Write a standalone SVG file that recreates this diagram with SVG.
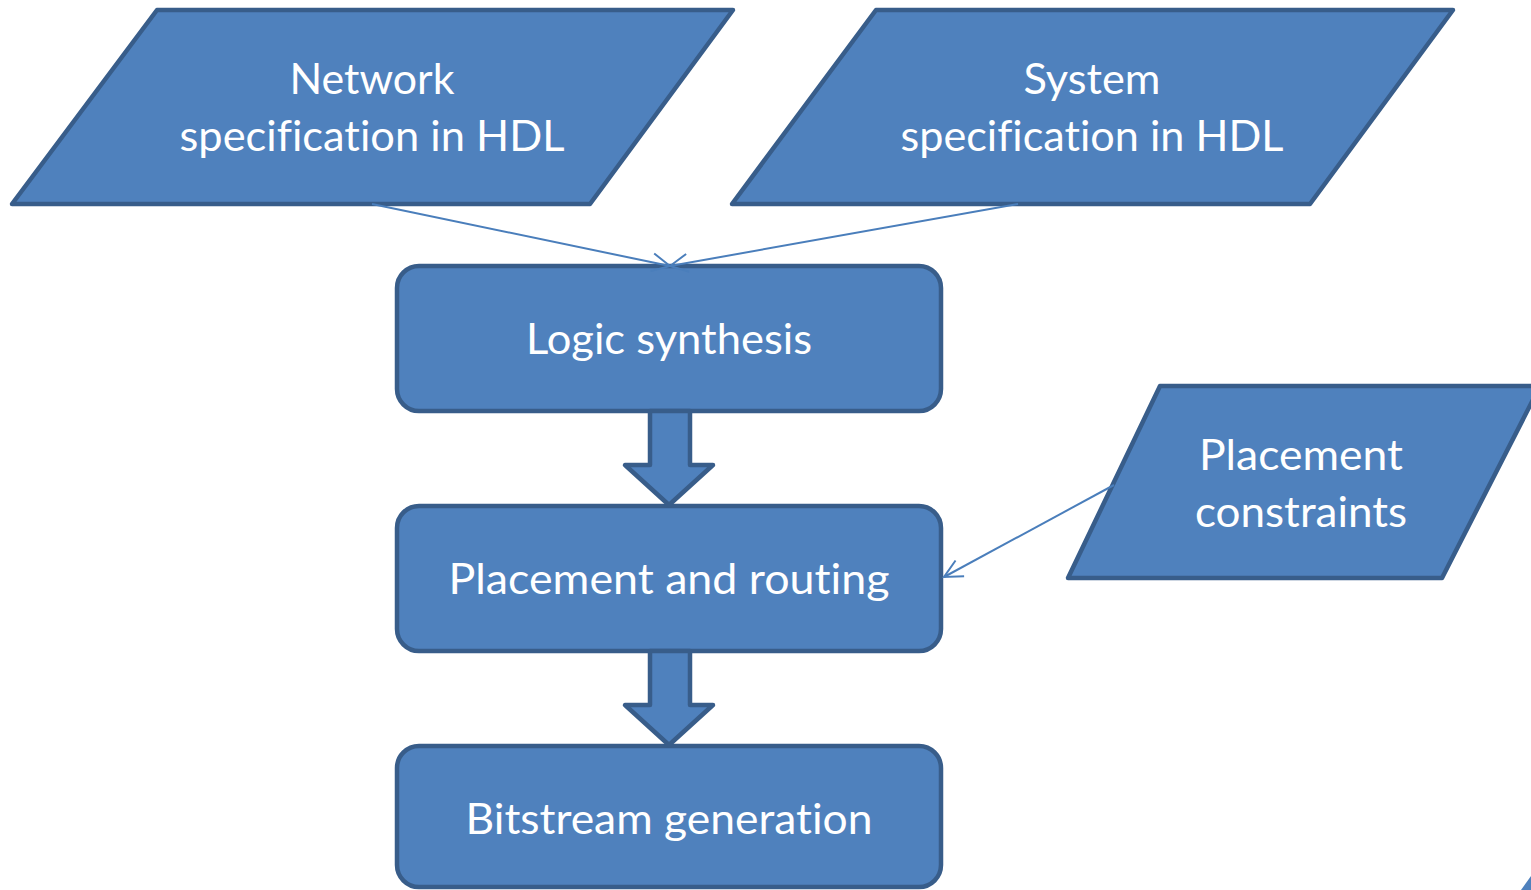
<svg xmlns="http://www.w3.org/2000/svg" width="1531" height="890" viewBox="0 0 1531 890">
  <style>
    .shape { fill: #4F81BD; stroke: #385D8A; stroke-width: 4.5; stroke-linejoin: round; }
    .label { fill: #FFFFFF; font-family: Lato, "Open Sans", "Liberation Sans", sans-serif; font-size: 42px; text-anchor: middle; font-variant-ligatures: none; }
    .link { fill: none; stroke: #4A7EBB; stroke-width: 2; }
  </style>
  <defs>
    <marker id="open-arrow" viewBox="0 0 24 24" refX="22" refY="12" markerWidth="24" markerHeight="24" markerUnits="userSpaceOnUse" orient="auto">
      <path d="M4,3 L22,12 L4,21" fill="none" stroke="#4A7EBB" stroke-width="2"/>
    </marker>
  </defs>
  <rect width="1531" height="890" fill="#FFFFFF"/>

  <!-- inputs -->
  <g id="network-spec">
    <polygon class="shape" points="157,10 733,10 590,204 12,204"/>
    <text class="label" x="372" y="94" textLength="165" lengthAdjust="spacingAndGlyphs">Network</text>
    <text class="label" x="372" y="151" textLength="385" lengthAdjust="spacingAndGlyphs">specification in HDL</text>
  </g>
  <g id="system-spec">
    <polygon class="shape" points="876,10 1453,10 1310,204 732,204"/>
    <text class="label" x="1092" y="94" textLength="137" lengthAdjust="spacingAndGlyphs">System</text>
    <text class="label" x="1092" y="151" textLength="383" lengthAdjust="spacingAndGlyphs">specification in HDL</text>
  </g>
  <g id="placement-constraints">
    <polygon class="shape" points="1160,386 1540,386 1442,578 1068,578"/>
    <text class="label" x="1301" y="470" textLength="204" lengthAdjust="spacingAndGlyphs">Placement</text>
    <text class="label" x="1301" y="527" textLength="212" lengthAdjust="spacingAndGlyphs">constraints</text>
  </g>

  <!-- process steps -->
  <g id="logic-synthesis">
    <rect class="shape" x="397" y="266" width="544" height="145" rx="22"/>
    <text class="label" x="669" y="354" textLength="286" lengthAdjust="spacingAndGlyphs">Logic synthesis</text>
  </g>
  <g id="placement-routing">
    <rect class="shape" x="397" y="506" width="544" height="145" rx="22"/>
    <text class="label" x="669" y="594" textLength="441" lengthAdjust="spacingAndGlyphs">Placement and routing</text>
  </g>
  <g id="bitstream-generation">
    <rect class="shape" x="397" y="746" width="544" height="141" rx="22"/>
    <text class="label" x="669" y="834" textLength="407" lengthAdjust="spacingAndGlyphs">Bitstream generation</text>
  </g>

  <!-- connectors -->
  <g id="connectors">
    <polygon class="shape" points="650,411 690,411 690,465 713,465 669,505 625,465 650,465"/>
    <polygon class="shape" points="650,651 690,651 690,705 713,705 669,745 625,705 650,705"/>
    <line class="link" x1="372" y1="204" x2="670" y2="266" marker-end="url(#open-arrow)"/>
    <line class="link" x1="1018" y1="204" x2="670" y2="266" marker-end="url(#open-arrow)"/>
    <line class="link" x1="1114" y1="485" x2="944" y2="577" marker-end="url(#open-arrow)"/>
  </g>

  <!-- corner fragment -->
  <polygon points="1531,876 1531,890 1521,890" fill="#4F81BD"/>
</svg>
